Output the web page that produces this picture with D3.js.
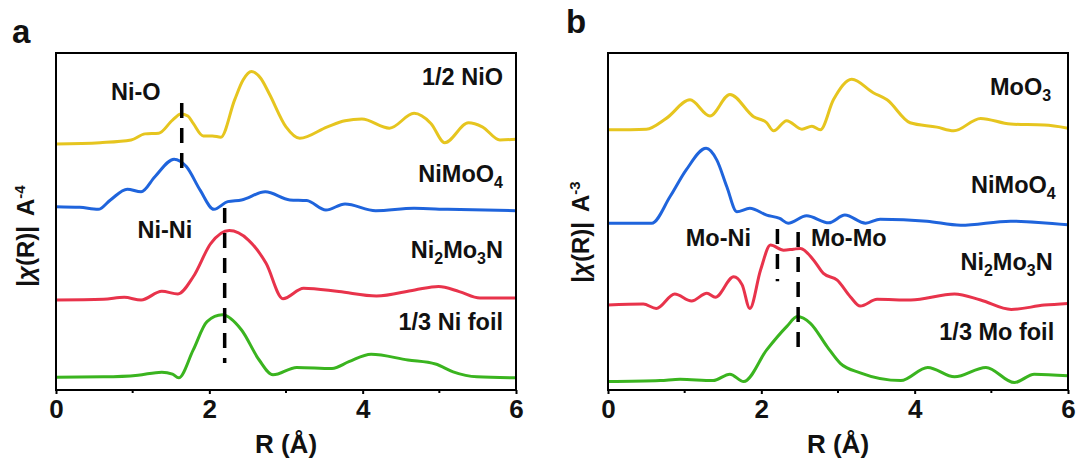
<!DOCTYPE html>
<html>
<head>
<meta charset="utf-8">
<script src="https://cdn.jsdelivr.net/npm/d3@7"></script>
<style>
  body { margin: 0; background: #fff; }
  text { font-family: "Liberation Sans", Arial, sans-serif; font-weight: bold; fill: #111; }
</style>
</head>
<body>
<div id="chart"></div>
<script>
// ---- data (R in Å, |chi(R)| in arbitrary offset units) ----
const xTicks = [0, 2, 4, 6];
const xMinor = [1, 3, 5];

// panel a : Ni K-edge
const aNiO = [[0,7.30],[0.575,7.34],[0.98,7.42],[1.16,7.60],[1.34,7.62],[1.52,8.01],[1.63,8.19],[1.72,8.13],[1.79,7.91],[1.92,7.54],[2.04,7.54],[2.15,7.50],[2.33,8.61],[2.44,9.20],[2.55,9.45],[2.67,9.25],[2.78,8.80],[3.00,7.81],[3.18,7.47],[3.54,7.81],[3.77,7.99],[3.99,8.04],[4.35,7.77],[4.67,8.21],[4.89,7.91],[5.07,7.34],[5.38,7.93],[5.56,7.81],[5.79,7.42],[6.0,7.44]];
const aNiMoO4 = [[0,5.44],[0.31,5.42],[0.55,5.36],[0.71,5.64],[0.93,5.96],[1.11,5.88],[1.29,6.33],[1.54,6.85],[1.70,6.63],[1.88,5.93],[2.06,5.36],[2.24,5.59],[2.42,5.64],[2.73,5.88],[3.05,5.64],[3.27,5.62],[3.52,5.34],[3.77,5.52],[4.17,5.32],[4.67,5.39],[5.11,5.36],[6.0,5.32]];
const aNi2Mo3N = [[0,2.67],[0.62,2.69],[0.89,2.75],[1.11,2.67],[1.38,2.93],[1.59,2.85],[1.79,3.36],[2.02,4.35],[2.26,4.73],[2.51,4.45],[2.74,3.76],[2.96,2.71],[3.23,3.02],[3.69,2.92],[4.18,2.79],[4.68,2.97],[4.99,3.07],[5.26,2.92],[5.53,2.73],[6.0,2.73]];
const aNiFoil = [[0,0.38],[0.62,0.39],[1.07,0.44],[1.38,0.53],[1.52,0.47],[1.60,0.36],[1.79,1.19],[1.97,2.03],[2.17,2.23],[2.42,1.78],[2.65,0.89],[2.83,0.45],[3.14,0.67],[3.60,0.64],[3.82,0.84],[4.11,1.06],[4.59,0.89],[4.95,0.77],[5.18,0.54],[5.49,0.39],[6.0,0.36]];

// panel b : Mo K-edge
const bMoO3 = [[0,7.72],[0.50,7.74],[0.76,8.06],[1.07,8.61],[1.33,8.13],[1.59,8.77],[1.90,8.11],[2.07,7.93],[2.16,7.69],[2.33,7.99],[2.53,7.74],[2.66,7.83],[2.77,7.72],[2.94,8.61],[3.18,9.22],[3.46,8.82],[3.64,8.61],[3.94,7.93],[4.29,7.80],[4.51,7.69],[4.86,8.06],[5.25,7.89],[5.69,7.86],[6.0,7.77]];
const bNiMoO4 = [[0,4.95],[0.57,4.95],[0.81,5.74],[1.02,6.53],[1.28,7.17],[1.42,6.82],[1.55,6.03],[1.68,5.29],[1.85,5.39],[2.07,5.19],[2.24,5.09],[2.35,4.95],[2.59,5.17],[2.88,4.96],[3.09,5.19],[3.36,4.95],[3.55,5.07],[4.16,5.01],[4.60,4.89],[5.25,5.01],[6.0,4.90]];
const bNi2Mo3N = [[0,2.52],[0.46,2.55],[0.63,2.42],[0.87,2.85],[1.09,2.64],[1.29,2.87],[1.40,2.75],[1.64,3.36],[1.75,3.12],[1.85,2.42],[1.99,3.56],[2.12,4.30],[2.29,4.15],[2.42,4.18],[2.51,4.20],[2.68,3.86],[2.81,3.46],[2.99,3.26],[3.16,2.77],[3.29,2.49],[3.51,2.69],[3.95,2.67],[4.52,2.85],[4.86,2.67],[5.26,2.39],[5.69,2.52],[6.0,2.57]];
const bMoFoil = [[0,0.25],[0.68,0.28],[0.94,0.32],[1.37,0.28],[1.59,0.47],[1.77,0.25],[2.07,1.19],[2.33,1.88],[2.47,2.18],[2.64,1.98],[2.86,1.28],[3.03,0.79],[3.29,0.51],[3.82,0.28],[4.17,0.67],[4.52,0.39],[4.93,0.67],[5.30,0.22],[5.56,0.47],[6.0,0.42]];

// curve labels: text ({} = subscript), R, value
const aLabels = [["1/2 NiO", 5.83, 9.05], ["NiMoO{4}", 5.83, 6.17], ["Ni{2}Mo{3}N", 5.83, 3.92], ["1/3 Ni foil", 5.83, 1.78]];
const bLabels = [["MoO{3}", 5.78, 8.75], ["NiMoO{4}", 5.84, 5.85], ["Ni{2}Mo{3}N", 5.80, 3.56], ["1/3 Mo foil", 5.82, 1.48]];
// bond annotations: text, R, value
const aBonds = [["Ni-O", 1.04, 8.84], ["Ni-Ni", 1.42, 4.75]];
const bBonds = [["Mo-Ni", 1.44, 4.51], ["Mo-Mo", 3.14, 4.51]];
// dashed guide lines: R, top value, bottom value
const aGuides = [[1.64, 8.52, 6.41], [2.20, 5.40, 0.80]];
const bGuides = [[2.21, 4.78, 3.23], [2.48, 4.69, 1.25]];

const colors = ["#e6c51f", "#1f64dc", "#e8334b", "#3ab41f"];

const W = 1083, H = 466;
const svg = d3.select("#chart").append("svg").attr("width", W).attr("height", H);

// "{..}" parts become subscripts
function richText(sel, str, size) {
  let shift = 0;
  str.split(/(\{[^}]*\})/).filter(s => s.length).forEach(part => {
    if (part[0] === "{") {
      sel.append("tspan").attr("dy", 6 - shift).attr("font-size", size * 0.68).text(part.slice(1, -1));
      shift = 6;
    } else {
      sel.append("tspan").attr("dy", -shift).attr("font-size", size).text(part);
      shift = 0;
    }
  });
}

function drawPanel(opt) {
  const g = svg.append("g").attr("transform", `translate(${opt.left},${opt.top})`);
  const w = 460, h = 337;
  const x = d3.scaleLinear().domain([0, 6]).range([0, w]);
  const y = d3.scaleLinear().domain([0, 10]).range([h, 0]);

  const line = d3.line().x(d => x(d[0])).y(d => y(d[1])).curve(d3.curveMonotoneX);

  opt.series.forEach((s, i) => {
    g.append("path").datum(s)
      .attr("fill", "none").attr("stroke", colors[i])
      .attr("stroke-width", 3).attr("stroke-linejoin", "round")
      .attr("d", line);
  });

  // dashed guides
  opt.guides.forEach(d => {
    g.append("line")
      .attr("x1", x(d[0])).attr("x2", x(d[0]))
      .attr("y1", y(d[1])).attr("y2", y(d[2]))
      .attr("stroke", "#000").attr("stroke-width", 3.5)
      .attr("stroke-dasharray", "15,10");
  });

  // frame
  g.append("rect").attr("width", w).attr("height", h)
    .attr("fill", "none").attr("stroke", "#000").attr("stroke-width", 2);

  // x axis
  const ax = g.append("g").attr("transform", `translate(0,${h})`)
    .call(d3.axisBottom(x).tickValues(xTicks).tickFormat(d3.format("d")).tickSize(4).tickPadding(6));
  ax.select(".domain").remove();
  ax.selectAll("line").attr("stroke-width", 2);
  ax.selectAll("text").attr("font-size", 26).attr("fill", "#111");
  g.append("g").attr("transform", `translate(0,${h})`)
    .selectAll("line").data(xMinor).join("line")
    .attr("x1", d => x(d)).attr("x2", d => x(d))
    .attr("y1", 0).attr("y2", 3)
    .attr("stroke", "#000").attr("stroke-width", 2);

  g.append("text").attr("x", w / 2).attr("y", h + 63)
    .attr("text-anchor", "middle").attr("font-size", 26).text("R (Å)");

  // y title
  const yt = g.append("text")
    .attr("transform", `translate(${opt.yTitleX - opt.left},${opt.yTitleY - opt.top}) rotate(-90)`)
    .attr("text-anchor", "middle").attr("font-size", 24);
  yt.append("tspan").text("|");
  yt.append("tspan").attr("font-style", "italic").text("χ");
  yt.append("tspan").text("(R)|");
  yt.append("tspan").attr("dx", 10).text("A");
  yt.append("tspan").attr("dy", -9).attr("font-size", 15).text(opt.power);

  // curve labels
  opt.labels.forEach(d => {
    const t = g.append("text").attr("x", x(d[1])).attr("y", y(d[2]))
      .attr("dy", "0.35em").attr("text-anchor", "end");
    richText(t, d[0], 23.5);
  });
  opt.bonds.forEach(d => {
    g.append("text").attr("x", x(d[1])).attr("y", y(d[2]))
      .attr("dy", "0.35em").attr("text-anchor", "middle")
      .attr("font-size", 23.5).text(d[0]);
  });

  svg.append("text").attr("x", opt.tagX).attr("y", opt.tagY)
    .attr("font-size", 33).text(opt.tag);
}

drawPanel({
  left: 56, top: 53, tag: "a", tagX: 12, tagY: 43,
  series: [aNiO, aNiMoO4, aNi2Mo3N, aNiFoil],
  labels: aLabels, bonds: aBonds, guides: aGuides,
  yTitleX: 34, yTitleY: 236, power: "-4"
});
drawPanel({
  left: 608, top: 53, tag: "b", tagX: 566, tagY: 33,
  series: [bMoO3, bNiMoO4, bNi2Mo3N, bMoFoil],
  labels: bLabels, bonds: bBonds, guides: bGuides,
  yTitleX: 589, yTitleY: 232, power: "-3"
});
</script>
</body>
</html>
